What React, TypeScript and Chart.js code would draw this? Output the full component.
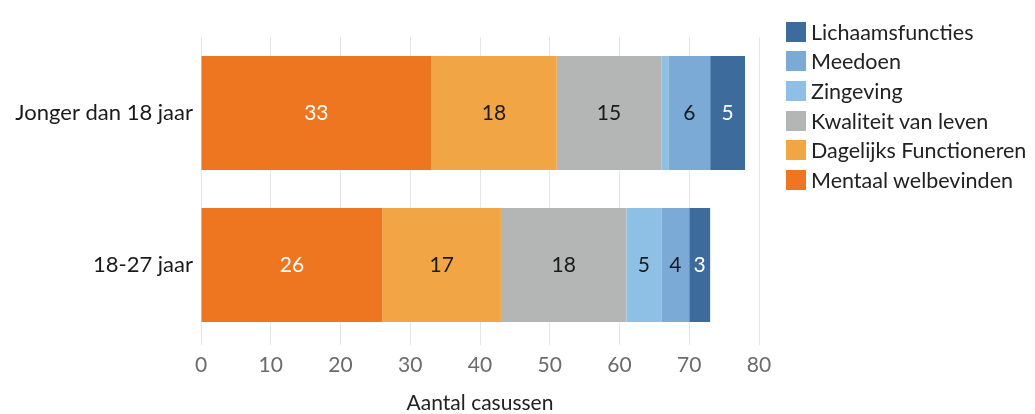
import React, { useEffect, useRef } from "react";
import { Chart, registerables } from "chart.js";

Chart.register(...registerables);

const categories: string[] = ["Jonger dan 18 jaar", "18-27 jaar"];
const seriesNames: string[] = [
  "Mentaal welbevinden",
  "Dagelijks Functioneren",
  "Kwaliteit van leven",
  "Zingeving",
  "Meedoen",
  "Lichaamsfuncties",
];
const mentaal: number[] = [33, 26];
const dagelijks: number[] = [18, 17];
const kwaliteit: number[] = [15, 18];
const zingeving: number[] = [1, 5];
const meedoen: number[] = [6, 4];
const lichaams: number[] = [5, 3];
const seriesColors: string[] = ["#EE7621", "#F2A545", "#B4B6B6", "#8DC0E4", "#7BAAD6", "#3D6B9B"];
const labelColors: string[] = ["#FFFFFF", "#1A1A1A", "#1A1A1A", "#1A1A1A", "#1A1A1A", "#FFFFFF"];
const xTicks: number[] = [0, 10, 20, 30, 40, 50, 60, 70, 80];
const xTitle = "Aantal casussen";

const FONT = "Lato, 'Open Sans', sans-serif";

const valueLabels = {
  id: "valueLabels",
  afterDatasetsDraw(chart: any) {
    const ctx = chart.ctx;
    ctx.save();
    ctx.font = `21px ${FONT}`;
    ctx.textAlign = "center";
    ctx.textBaseline = "middle";
    chart.data.datasets.forEach((ds: any, di: number) => {
      const meta = chart.getDatasetMeta(di);
      meta.data.forEach((bar: any, i: number) => {
        const v = ds.data[i];
        if (v < 2) return;
        const cx = (bar.x + bar.base) / 2;
        ctx.fillStyle = labelColors[di];
        ctx.fillText(String(v), cx, bar.y);
      });
    });
    ctx.restore();
  },
};

export default function App() {
  const ref = useRef<HTMLCanvasElement | null>(null);
  useEffect(() => {
    const all = [mentaal, dagelijks, kwaliteit, zingeving, meedoen, lichaams];
    const chart = new Chart(ref.current as HTMLCanvasElement, {
      type: "bar",
      data: {
        labels: categories,
        datasets: all.map((d, i) => ({
          label: seriesNames[i],
          data: d,
          backgroundColor: seriesColors[i],
          borderWidth: 0,
          categoryPercentage: 1,
          barPercentage: 0.75,
        })),
      },
      options: {
        indexAxis: "y",
        animation: false,
        responsive: false,
        devicePixelRatio: 1,
        layout: { padding: { top: 37, right: 276, left: 0, bottom: 0 } },
        plugins: {
          legend: { display: false },
          tooltip: { enabled: false },
        },
        scales: {
          x: {
            stacked: true,
            min: 0,
            max: 80,
            afterBuildTicks: (s: any) => {
              s.ticks = xTicks.map((v) => ({ value: v }));
            },
            afterFit: (s: any) => {
              s.height = 73;
            },
            grid: { color: "#E6E6E6", drawTicks: true, tickLength: 4, tickColor: "#E6E6E6" },
            border: { display: false },
            ticks: { color: "#6B6B6B", font: { family: FONT, size: 21 }, padding: 8 },
            title: {
              display: true,
              text: xTitle,
              color: "#222222",
              font: { family: FONT, size: 21, lineHeight: 1 },
              padding: { top: 0, bottom: 0 },
            },
          },
          y: {
            stacked: true,
            afterFit: (s: any) => {
              s.width = 201;
            },
            grid: { display: false, drawTicks: false },
            border: { display: false },
            ticks: { color: "#1A1A1A", font: { family: FONT, size: 22 }, padding: 8 },
          },
        },
      },
      plugins: [valueLabels],
    });
    return () => chart.destroy();
  }, []);

  const legendItems = seriesNames.map((n, i) => ({ n, c: seriesColors[i] })).reverse();

  return (
    <div style={{ position: "fixed", left: 0, top: 0, width: 1035, height: 414, background: "#fff" }}>
      <canvas ref={ref} width={1035} height={414} style={{ position: "absolute", left: 0, top: 0 }} />
      <div style={{ position: "absolute", left: 786, top: 17, fontFamily: FONT, fontSize: 21.5, color: "#222", whiteSpace: "nowrap" }}>
        {legendItems.map((it) => (
          <div key={it.n} style={{ display: "flex", alignItems: "center", height: 29.6 }}>
            <span style={{ display: "inline-block", width: 20, height: 20, background: it.c, marginRight: 5, flexShrink: 0 }} />
            <span>{it.n}</span>
          </div>
        ))}
      </div>
    </div>
  );
}
